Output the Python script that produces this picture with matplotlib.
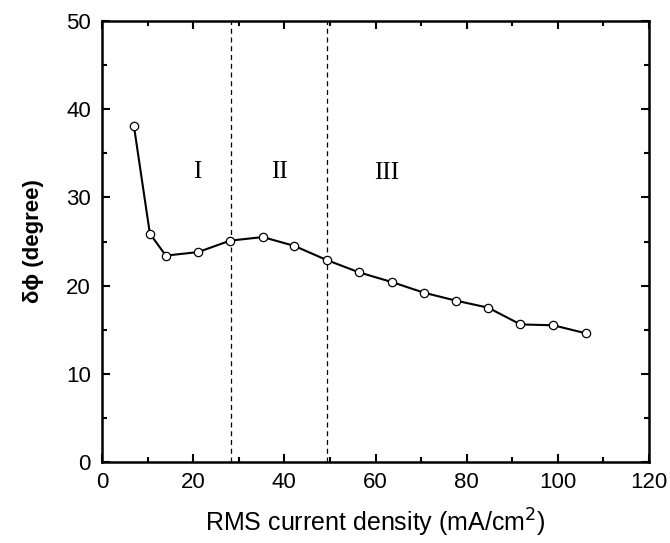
import matplotlib.pyplot as plt
from matplotlib.ticker import MultipleLocator

# data
current_density = [7.0, 10.5, 14.0, 21.1, 28.1, 35.3, 42.2, 49.3, 56.4, 63.6, 70.6, 77.6, 84.7, 91.8, 99.0, 106.1]
delta_phi = [38.1, 25.9, 23.4, 23.8, 25.1, 25.5, 24.5, 22.9, 21.5, 20.4, 19.2, 18.3, 17.5, 15.6, 15.5, 14.6]

# region boundaries and labels
boundaries = [28.4, 49.4]
region_labels = ['I', 'II', 'III']
region_x = [20.8, 39.0, 62.5]
region_y = [32.9, 32.9, 32.8]

plt.rcParams['font.family'] = ['Liberation Sans', 'DejaVu Sans']

fig = plt.figure(figsize=(6.7, 5.43), dpi=100)
ax = fig.add_axes([102 / 670, 1 - 462 / 543, 547 / 670, 441 / 543])

for b in boundaries:
    ax.axvline(b, color='black', linestyle=(0, (4, 3)), linewidth=0.9, zorder=1)

ax.plot(current_density, delta_phi, color='black', linewidth=1.5,
        marker='o', markersize=6, markerfacecolor='white',
        markeredgecolor='black', markeredgewidth=0.9, zorder=3)

for lab, x, y in zip(region_labels, region_x, region_y):
    ax.text(x, y, lab, family='Liberation Serif', fontsize=18,
            ha='center', va='center')

ax.set_xlim(0, 120)
ax.set_ylim(0, 50)
ax.xaxis.set_major_locator(MultipleLocator(20))
ax.xaxis.set_minor_locator(MultipleLocator(10))
ax.yaxis.set_major_locator(MultipleLocator(10))
ax.yaxis.set_minor_locator(MultipleLocator(5))
ax.tick_params(which='both', direction='in', top=True, right=True,
               labelsize=16, width=1.5)
ax.tick_params(which='major', length=6)
ax.tick_params(which='minor', length=3.5)
ax.tick_params(axis='x', pad=7)
ax.tick_params(axis='y', pad=8)
for sp in ax.spines.values():
    sp.set_linewidth(1.8)

ax.set_xlabel('RMS current density (mA/cm$^2$)', fontsize=18, labelpad=10)
ax.set_ylabel('δϕ (degree)', fontsize=16, fontweight='bold', labelpad=16)

fig.savefig('out.png', dpi=100)
